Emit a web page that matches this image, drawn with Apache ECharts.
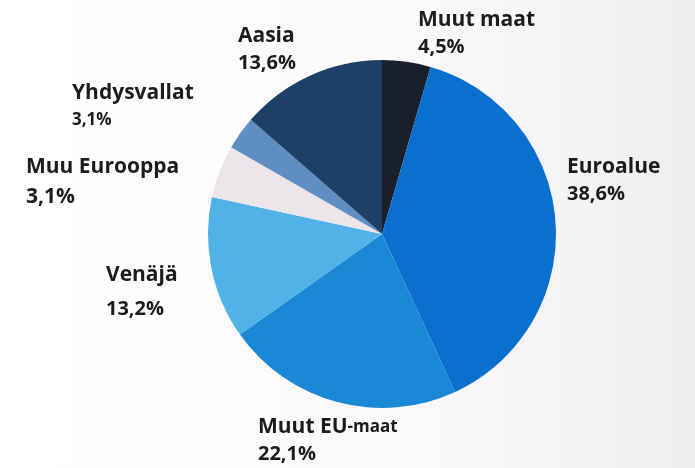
<!DOCTYPE html>
<html>
<head>
<meta charset="utf-8">
<script src="https://cdn.jsdelivr.net/npm/echarts@6/dist/echarts.min.js"></script>
<style>
    html, body { margin: 0; padding: 0; }
    #chart { width: 695px; height: 468px; }
</style>
</head>
<body>
<div id="chart"></div>
<script>
// slices clockwise from 12 o'clock
let regions = ["Muut maat", "Euroalue", "Muut EU-maat", "Venäjä", "Muu Eurooppa", "Yhdysvallat", "Aasia"];
let shares = [4.5, 38.6, 22.1, 13.2, 4.9, 3.1, 13.6];
// percent texts as printed on the chart
let shareLabels = ["4,5%", "38,6%", "22,1%", "13,2%", "3,1%", "3,1%", "13,6%"];

let colors = ["#19202b", "#0b6fd0", "#1a88d4", "#50b2e7", "#ece6ea", "#5f8fc2", "#1e4066"];
// label anchor (top-left) for each slice
let labelPos = [[418, 7], [567, 154], [258, 414], [106, 262], [26, 154], [72, 80], [238, 23]];

function labelText(idx) {
    let name = regions[idx];
    let pct = shareLabels[idx];
    switch (idx) {
        case 2:
            return "{n|Muut EU}{s|-maat}\n{p|" + pct + "}";
        case 3:
            return "{n|" + name + "}\n{pv|" + pct + "}";
        case 4:
            return "{n|" + name + "}\n{pb|" + pct + "}";
        case 5:
            return "{n|" + name + "}\n{ps|" + pct + "}";
        default:
            return "{n|" + name + "}\n{p|" + pct + "}";
    }
}

let chart = echarts.init(document.getElementById("chart"));
let font = "'Open Sans', 'DejaVu Sans', sans-serif";
let ink = "#1c1c1e";
let option = {
    backgroundColor: {
        type: "linear",
        x: 0, y: 0, x2: 1, y2: 0,
        colorStops: [
            {offset: 0, color: "#ffffff"},
            {offset: 0.6, color: "#fbfafb"},
            {offset: 1, color: "#efedf0"}
        ]
    },
    animation: false,
    series: [
        {
            type: "pie",
            center: [382, 234],
            radius: 174,
            startAngle: 90,
            clockwise: true,
            avoidLabelOverlap: false,
            labelLine: {show: false},
            itemStyle: {borderWidth: 0},
            label: {
                show: true,
                position: "outside",
                color: ink,
                fontFamily: font,
                formatter: function (p) {
                    return labelText(p.dataIndex);
                },
                rich: {
                    n: {fontSize: 21, fontWeight: "bold", lineHeight: 26, color: ink, fontFamily: font},
                    s: {fontSize: 17, fontWeight: "bold", lineHeight: 26, color: ink, fontFamily: font},
                    p: {fontSize: 20, fontWeight: "bold", lineHeight: 29, color: ink, fontFamily: font},
                    pv: {fontSize: 20, fontWeight: "bold", lineHeight: 43, color: ink, fontFamily: font},
                    pb: {fontSize: 21, fontWeight: "bold", lineHeight: 35, color: ink, fontFamily: font},
                    ps: {fontSize: 17, fontWeight: "bold", lineHeight: 29, color: ink, fontFamily: font}
                }
            },
            labelLayout: function (params) {
                let pos = labelPos[params.dataIndex];
                return {x: pos[0], y: pos[1], align: "left", verticalAlign: "top"};
            },
            data: regions.map(function (name, i) {
                return {name: name, value: shares[i], itemStyle: {color: colors[i]}};
            })
        }
    ]
};
chart.setOption(option);
</script>
</body>
</html>
